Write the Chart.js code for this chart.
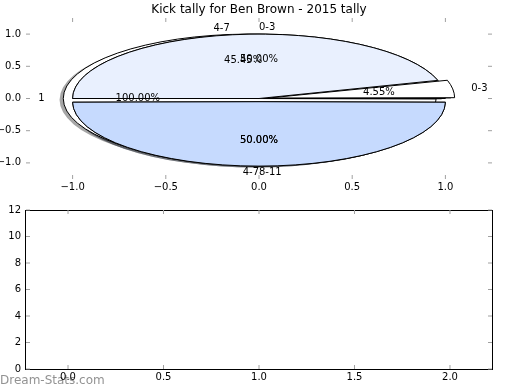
<!DOCTYPE html>
<html><head><meta charset="utf-8">
<script src="https://cdn.jsdelivr.net/npm/chart.js@4.4.0/dist/chart.umd.min.js"></script>
<style>
html,body{margin:0;padding:0;background:#fff;}
#wrap{position:relative;width:520px;height:390px;overflow:hidden;background:#fff;}
#wrap canvas{position:absolute;left:0;top:0;}
</style></head><body>
<div id="wrap">
<canvas id="bottom" width="520" height="390"></canvas>
<canvas id="shC" width="520" height="390"></canvas>
<canvas id="shA" width="520" height="390"></canvas>
<canvas id="shB" width="520" height="390"></canvas>
<canvas id="pieC" width="520" height="390"></canvas>
<canvas id="pieA" width="520" height="390"></canvas>
<canvas id="pieB" width="520" height="390"></canvas>
<canvas id="topAxes" width="520" height="390"></canvas>
</div>
<script>
// ---------------- data ----------------
const titleText = 'Kick tally for Ben Brown - 2015 tally';
const pieCLabels = ['1'];
const pieCValues = [1];
const pieALabels = ['0-3', '4-7'];
const pieAValues = [1, 1];
const pieBLabels = ['0-3', '4-7', '8-11'];
const pieBValues = [1, 10, 11];
const topXTicks = [-1, -0.5, 0, 0.5, 1];
const topYTicks = [-1, -0.5, 0, 0.5, 1];
const bottomXTicks = [0, 0.5, 1, 1.5, 2];
const bottomYTicks = [0, 2, 4, 6, 8, 10, 12];
const bottomPoints = [];
const watermarkText = 'Dream-Stats.com';

// ---------------- style / layout ----------------
const FAMILY = '"DejaVu Sans", sans-serif';
Chart.defaults.font.family = FAMILY;
Chart.defaults.color = '#000';
const sliceColors = {'1': '#ffffff', '0-3': '#ffffff', '4-7': '#e9f0fe', '8-11': '#c6dafe'};
const pies = [
  {key: 'C', labels: pieCLabels, values: pieCValues, explode: [0.05]},
  {key: 'A', labels: pieALabels, values: pieAValues, explode: [0, 0.05]},
  {key: 'B', labels: pieBLabels, values: pieBValues, explode: [0.05, 0, 0.05], haOverride: {2: 'left'}}
];
const TOP = {l: 26, r: 492, t: 18, b: 179, lim: 1.25};
const BOT = {l: 26, r: 492, t: 210, b: 369, xmin: -0.22, xmax: 2.22, ymin: 0, ymax: 12};
const R = (TOP.r - TOP.l) / (2 * TOP.lim);            // px per unit (x)
const SY = ((TOP.b - TOP.t) / (2 * TOP.lim)) / R;      // y squash
const SHADOW = {dx: -0.02, dy: -0.02};

function shadowOf(hex) {
  const n = parseInt(hex.slice(1), 16);
  const r = (n >> 16) & 255, g = (n >> 8) & 255, b = n & 255;
  return `rgba(${Math.round(r * 0.3)},${Math.round(g * 0.3)},${Math.round(b * 0.3)},0.5)`;
}
const fmt1 = v => (v < 0 ? '\u2212' : '') + Math.abs(v).toFixed(1);

// ellipse: squash + flip the pie drawing; strokes keep 1px width
const ellipsePlugin = {
  id: 'ellipse',
  afterDatasetsUpdate(chart) {
    chart.getSortedVisibleDatasetMetas().forEach(meta => meta.data.forEach(arc => {
      const o = ((arc.options && arc.options.offset) || 0) / 4;
      arc.outerRadius -= o * (1 - Math.sin(Math.min(Math.PI, arc.circumference)));
    }));
  },
  beforeDatasetsDraw(chart) {
    const ctx = chart.ctx, a = chart.chartArea;
    const cx = (a.left + a.right) / 2, cy = (a.top + a.bottom) / 2;
    const base = ctx.getTransform();
    ctx.save();
    ctx.translate(cx, cy); ctx.scale(1, -SY); ctx.translate(-cx, -cy);
    ctx.stroke = function () {
      this.save(); this.setTransform(base);
      CanvasRenderingContext2D.prototype.stroke.call(this);
      this.restore();
    };
  },
  afterDatasetsDraw(chart) {
    const ctx = chart.ctx;
    delete ctx.stroke;
    ctx.restore();
  }
};

function makePie(canvasId, pie, shadow) {
  const colors = pie.labels.map(l => sliceColors[l]);
  const dx = shadow ? SHADOW.dx * R : 0;
  const dy = shadow ? -SHADOW.dy * R * SY : 0;
  new Chart(document.getElementById(canvasId), {
    type: 'pie',
    data: {
      labels: pie.labels,
      datasets: [{
        data: pie.values,
        backgroundColor: shadow ? colors.map(shadowOf) : colors,
        borderColor: shadow ? 'rgba(0,0,0,0)' : '#000',
        borderWidth: shadow ? 0 : 1,
        offset: pie.explode.map(e => 4 * e * R),
        radius: R,
        rotation: 90,
        clip: false,
        hoverOffset: 0
      }]
    },
    options: {
      responsive: false, animation: false, events: [], rotation: 90,
      layout: {padding: {left: TOP.l + dx, right: 520 - TOP.r - dx, top: TOP.t + dy, bottom: 390 - TOP.b - dy}},
      plugins: {legend: {display: false}, tooltip: {enabled: false}}
    },
    plugins: [ellipsePlugin]
  });
}

// inward tick marks (+ optional frame)
const inTicks = {
  id: 'inTicks',
  afterDraw(chart, args, opts) {
    const ctx = chart.ctx, a = chart.chartArea, L = 4;
    const xs = chart.scales.x, ys = chart.scales.y;
    ctx.save();
    if (opts.frame) {
      ctx.strokeStyle = '#000'; ctx.lineWidth = 1;
      ctx.strokeRect(a.left - 0.5, a.top + 0.5, a.right - a.left + 1, a.bottom - a.top);
    }
    ctx.strokeStyle = '#a0a0a0'; ctx.lineWidth = 1;
    ctx.beginPath();
    xs.ticks.forEach(t => {
      const p = xs.getPixelForValue(t.value);
      ctx.moveTo(p, a.top); ctx.lineTo(p, a.top + L);
      ctx.moveTo(p, a.bottom); ctx.lineTo(p, a.bottom - L);
    });
    ys.ticks.forEach(t => {
      const p = ys.getPixelForValue(t.value);
      ctx.moveTo(a.left, p); ctx.lineTo(a.left + L, p);
      ctx.moveTo(a.right, p); ctx.lineTo(a.right - L, p);
    });
    ctx.stroke();
    ctx.restore();
  }
};

// pie labels + title
const labelPlugin = {
  id: 'pieLabels',
  afterDraw(chart) {
    const ctx = chart.ctx, xs = chart.scales.x, ys = chart.scales.y;
    ctx.save();
    ctx.fillStyle = '#000';
    ctx.font = `10px ${FAMILY}`;
    ctx.textBaseline = 'middle';
    pies.forEach(p => {
      const sum = p.values.reduce((s, v) => s + v, 0);
      let t1 = 0;
      p.values.forEach((v, i) => {
        const frac = v / sum, t2 = t1 + frac, th = Math.PI * (t1 + t2);
        const c = Math.cos(th), s = Math.sin(th);
        const ox = p.explode[i] * c, oy = p.explode[i] * s;
        ctx.textAlign = (p.haOverride && p.haOverride[i]) || (c > 0 ? 'left' : 'right');
        ctx.fillText(p.labels[i], xs.getPixelForValue(ox + 1.1 * c), ys.getPixelForValue(oy + 1.1 * s));
        ctx.textAlign = 'center';
        ctx.fillText((frac * 100).toFixed(2) + '%', xs.getPixelForValue(ox + 0.6 * c), ys.getPixelForValue(oy + 0.6 * s));
        t1 = t2;
      });
    });
    ctx.font = `12px ${FAMILY}`;
    ctx.textAlign = 'center';
    ctx.fillText(titleText, (chart.chartArea.left + chart.chartArea.right) / 2, 10);
    ctx.restore();
  }
};

const watermarkPlugin = {
  id: 'watermark',
  beforeDraw(chart) {
    const ctx = chart.ctx;
    ctx.save();
    ctx.font = `12px ${FAMILY}`;
    ctx.fillStyle = 'rgba(110,110,110,0.75)';
    ctx.textAlign = 'left'; ctx.textBaseline = 'middle';
    ctx.fillText(watermarkText, 0, 381);
    ctx.restore();
  }
};

function axisOpts(min, max, ticksArr, fmt, isX, size, pad) {
  return {
    type: 'linear', min, max,
    afterBuildTicks: s => { s.ticks = ticksArr.map(v => ({value: v})); },
    afterFit: s => { if (isX) s.height = size; else s.width = size; },
    grid: {display: false, drawTicks: false},
    border: {display: false},
    ticks: {padding: pad, color: '#000', font: {family: FAMILY, size: 10}, callback: fmt, maxRotation: 0, autoSkip: false}
  };
}

// bottom (empty) axes
new Chart(document.getElementById('bottom'), {
  type: 'scatter',
  data: {datasets: [{data: bottomPoints}]},
  options: {
    responsive: false, animation: false, events: [],
    layout: {padding: {left: 0, right: 520 - BOT.r, top: BOT.t, bottom: 0}},
    scales: {
      x: axisOpts(BOT.xmin, BOT.xmax, bottomXTicks, v => v.toFixed(1), true, 390 - BOT.b, 2),
      y: axisOpts(BOT.ymin, BOT.ymax, bottomYTicks, v => String(v), false, BOT.l, 5)
    },
    plugins: {legend: {display: false}, tooltip: {enabled: false}, inTicks: {frame: true}}
  },
  plugins: [watermarkPlugin, inTicks]
});

// shadows first, then pies (C, A, B)
makePie('shC', pies[0], true);
makePie('shA', pies[1], true);
makePie('shB', pies[2], true);
makePie('pieC', pies[0], false);
makePie('pieA', pies[1], false);
makePie('pieB', pies[2], false);

// top axes (no frame) with labels
new Chart(document.getElementById('topAxes'), {
  type: 'scatter',
  data: {datasets: []},
  options: {
    responsive: false, animation: false, events: [],
    layout: {padding: {left: 0, right: 520 - TOP.r, top: TOP.t, bottom: 390 - TOP.b - 20}},
    scales: {
      x: axisOpts(-TOP.lim, TOP.lim, topXTicks, fmt1, true, 20, 2),
      y: axisOpts(-TOP.lim, TOP.lim, topYTicks, fmt1, false, TOP.l, 5)
    },
    plugins: {legend: {display: false}, tooltip: {enabled: false}, inTicks: {frame: false}}
  },
  plugins: [inTicks, labelPlugin]
});
</script>
</body></html>
